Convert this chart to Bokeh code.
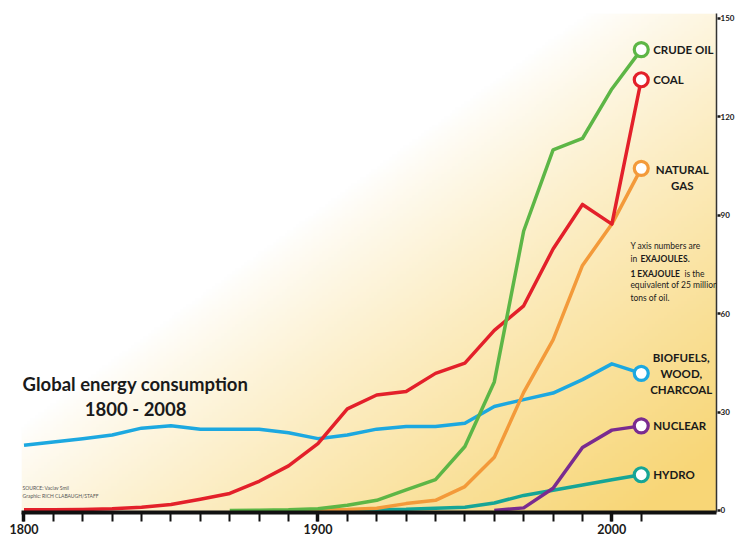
import numpy as np
from bokeh.plotting import figure
from bokeh.models import Range1d, FixedTicker, Label
from bokeh.core.properties import value
from bokeh.embed import file_html
from bokeh.resources import INLINE

# ---------------- data (exajoules) ----------------
years = list(range(1800, 2011, 10))
coal = [0.2, 0.2, 0.3, 0.5, 1.0, 1.8, 3.4, 5.2, 8.9, 13.6, 20.4, 31.0, 35.2, 36.3,
        41.8, 44.9, 54.9, 62.4, 79.7, 93.3, 87.3, 131.3]
biofuels = [19.9, 20.9, 21.9, 23.0, 25.1, 25.8, 24.8, 24.8, 24.8, 23.7, 21.9, 23.0,
            24.8, 25.6, 25.6, 26.6, 31.7, 33.8, 35.8, 39.9, 44.7, 41.8]
oil_years = list(range(1870, 2011, 10))
oil = [0.0, 0.1, 0.2, 0.5, 1.6, 3.1, 6.3, 9.4, 19.5, 39.2, 85.2, 109.9, 113.4, 128.5, 140.5]
gas_years = list(range(1890, 2011, 10))
gas = [0.0, 0.1, 0.3, 0.7, 2.1, 3.1, 7.3, 16.2, 36.0, 52.0, 74.7, 87.3, 104.3]
hydro_years = list(range(1890, 2011, 10))
hydro = [0.0, 0.1, 0.2, 0.3, 0.4, 0.7, 1.0, 2.3, 4.6, 6.2, 7.8, 9.4, 10.9]
nuclear_years = list(range(1960, 2011, 10))
nuclear = [0.0, 0.8, 6.8, 19.2, 24.5, 25.8]

x_tick_labels = [1800, 1900, 2000]
y_ticks = [0, 30, 60, 90, 120, 150]

# ---------------- styling ----------------
NARROW = "Lato"

C_OIL = "#5db646"
C_COAL = "#e3202a"
C_GAS = "#f39a3a"
C_BIO = "#1ca8e0"
C_NUC = "#7a2b90"
C_HYD = "#16a596"

X0, X1 = 1799.15, 2035.6
Y0, Y1 = -0.61, 151.5

p = figure(width=737, height=539, output_backend="svg", toolbar_location=None,
           x_range=Range1d(X0, X1), y_range=Range1d(Y0, Y1),
           y_axis_location="right",
           min_border_left=21, min_border_right=18, min_border_top=13, min_border_bottom=27)
p.grid.visible = False
p.outline_line_color = None
p.background_fill_color = "white"
p.border_fill_color = "white"

# ---------------- gradient background ----------------
W, H = 240, 170
fx0, fx1, fy_top, fy_bot = 21.0, 715.0, 13.0, 512.0
ii = np.arange(W)
jj = np.arange(H)
px = fx0 + (ii + 0.5) * (fx1 - fx0) / W
py = fy_bot - (jj + 0.5) * (fy_bot - fy_top) / H
PX, PY = np.meshgrid(px, py)
s = 0.5 * PX / 737.0 + 0.5 * PY / 539.0
t = np.clip((s - 0.41) / 0.5, 0, 1) ** 0.85
gold = np.array([248, 214, 118])
r = (255 * (1 - t) + gold[0] * t).astype(np.uint32)
g = (255 * (1 - t) + gold[1] * t).astype(np.uint32)
b = (255 * (1 - t) + gold[2] * t).astype(np.uint32)
img = (255 << 24) | (b << 16) | (g << 8) | r
p.image_rgba(image=[img.astype(np.uint32)], x=X0, y=Y0, dw=X1 - X0, dh=Y1 - Y0, level="image")

# ---------------- lines ----------------
LW = 3.5
p.line(years, biofuels, line_color=C_BIO, line_width=LW, line_join="round")
p.line(hydro_years, hydro, line_color=C_HYD, line_width=LW, line_join="round")
p.line(nuclear_years, nuclear, line_color=C_NUC, line_width=LW, line_join="round")
p.line(gas_years, gas, line_color=C_GAS, line_width=LW, line_join="round")
p.line(years, coal, line_color=C_COAL, line_width=LW, line_join="round")
p.line(oil_years, oil, line_color=C_OIL, line_width=LW, line_join="round")

series_end = [
    (oil_years, oil, C_OIL), (years, coal, C_COAL), (gas_years, gas, C_GAS),
    (years, biofuels, C_BIO), (nuclear_years, nuclear, C_NUC), (hydro_years, hydro, C_HYD),
]
for xs, ys, c in series_end:
    p.scatter([xs[-1]], [ys[-1]], size=14, marker="circle", fill_color="white",
              line_color=c, line_width=3.2)

# ---------------- series labels ----------------
LAB = dict(text_font=value(NARROW), text_font_style="bold", text_font_size="11.5px",
           text_color="#1a1a1a", text_baseline="middle")
p.text([oil_years[-1]], [oil[-1]], text=["CRUDE OIL"], x_offset=12, text_align="left", **LAB)
p.text([years[-1]], [coal[-1]], text=["COAL"], x_offset=12, text_align="left", **LAB)
p.text([gas_years[-1]], [gas[-1]], text=["NATURAL"], x_offset=41, y_offset=1, text_align="center", **LAB)
p.text([gas_years[-1]], [gas[-1]], text=["GAS"], x_offset=41, y_offset=17, text_align="center", **LAB)
p.text([years[-1]], [biofuels[-1]], text=["BIOFUELS,"], x_offset=40, y_offset=-16, text_align="center", **LAB)
p.text([years[-1]], [biofuels[-1]], text=["WOOD,"], x_offset=40, y_offset=0, text_align="center", **LAB)
p.text([years[-1]], [biofuels[-1]], text=["CHARCOAL"], x_offset=40, y_offset=16, text_align="center", **LAB)
p.text([nuclear_years[-1]], [nuclear[-1]], text=["NUCLEAR"], x_offset=12, text_align="left", **LAB)
p.text([hydro_years[-1]], [hydro[-1]], text=["HYDRO"], x_offset=12, text_align="left", **LAB)

# ---------------- title & source ----------------
p.text([1799.5], [38.7], text=["Global energy consumption"], text_font=value(NARROW),
       text_font_style="bold", text_font_size="18.5px", text_color="#1a1a1a",
       text_align="left", text_baseline="middle")
p.text([1838.0], [31.0], text=["1800 - 2008"], text_font=value(NARROW),
       text_font_style="bold", text_font_size="18.5px", text_color="#1a1a1a",
       text_align="center", text_baseline="middle")
p.text([1799.5], [7.0], text=["SOURCE: Vaclav Smil"], text_font=value(NARROW),
       text_font_size="5px", text_color="#555555", text_align="left", text_baseline="middle")
p.text([1799.5], [4.3], text=["Graphic: RICH CLABAUGH/STAFF"], text_font=value(NARROW),
       text_font_size="5px", text_color="#555555", text_align="left", text_baseline="middle")

# ---------------- note ----------------
NX = 2006.3
note_lines = [
    (80.5, "Y axis numbers are", "normal", 0),
    (76.8, "in", "normal", 0),
    (76.8, "EXAJOULES.", "bold", 10),
    (72.2, "1 EXAJOULE", "bold", 0),
    (72.2, "is the", "normal", 54),
    (68.6, "equivalent of 25 million", "normal", 0),
    (64.9, "tons of oil.", "normal", 0),
]
for yv, txt, style, xo in note_lines:
    p.add_layout(Label(x=NX, y=yv, x_offset=xo, text=txt, text_font=NARROW,
                       text_font_style=style, text_font_size="8.5px", text_color="#1a1a1a",
                       text_align="left", text_baseline="middle"))

# ---------------- axes ----------------
xa = p.xaxis[0]
xa.ticker = FixedTicker(ticks=x_tick_labels, minor_ticks=years)
xa.axis_line_width = 4
xa.axis_line_color = "#111111"
xa.major_tick_out = 9
xa.major_tick_in = 0
xa.major_tick_line_width = 3.5
xa.major_tick_line_color = "#111111"
xa.minor_tick_out = 9
xa.minor_tick_in = 0
xa.minor_tick_line_width = 2
xa.minor_tick_line_color = "#111111"
xa.major_label_text_font = NARROW
xa.major_label_text_font_style = "bold"
xa.major_label_text_font_size = "12.5px"
xa.major_label_text_color = "#1a1a1a"
xa.major_label_standoff = 2

ya = p.yaxis[0]
ya.ticker = FixedTicker(ticks=y_ticks)
ya.axis_line_width = 1.5
ya.axis_line_color = "#333333"
ya.major_tick_out = 4
ya.major_tick_in = -1
ya.major_tick_line_width = 2.5
ya.major_tick_line_color = "#1a1a1a"
ya.minor_tick_line_color = None
ya.major_label_text_font = NARROW
ya.major_label_text_font_style = "bold"
ya.major_label_text_font_size = "8px"
ya.major_label_text_color = "#1a1a1a"
ya.major_label_standoff = 0
ya.axis_label_standoff = 0

open("out.html", "w").write(file_html(p, INLINE))
